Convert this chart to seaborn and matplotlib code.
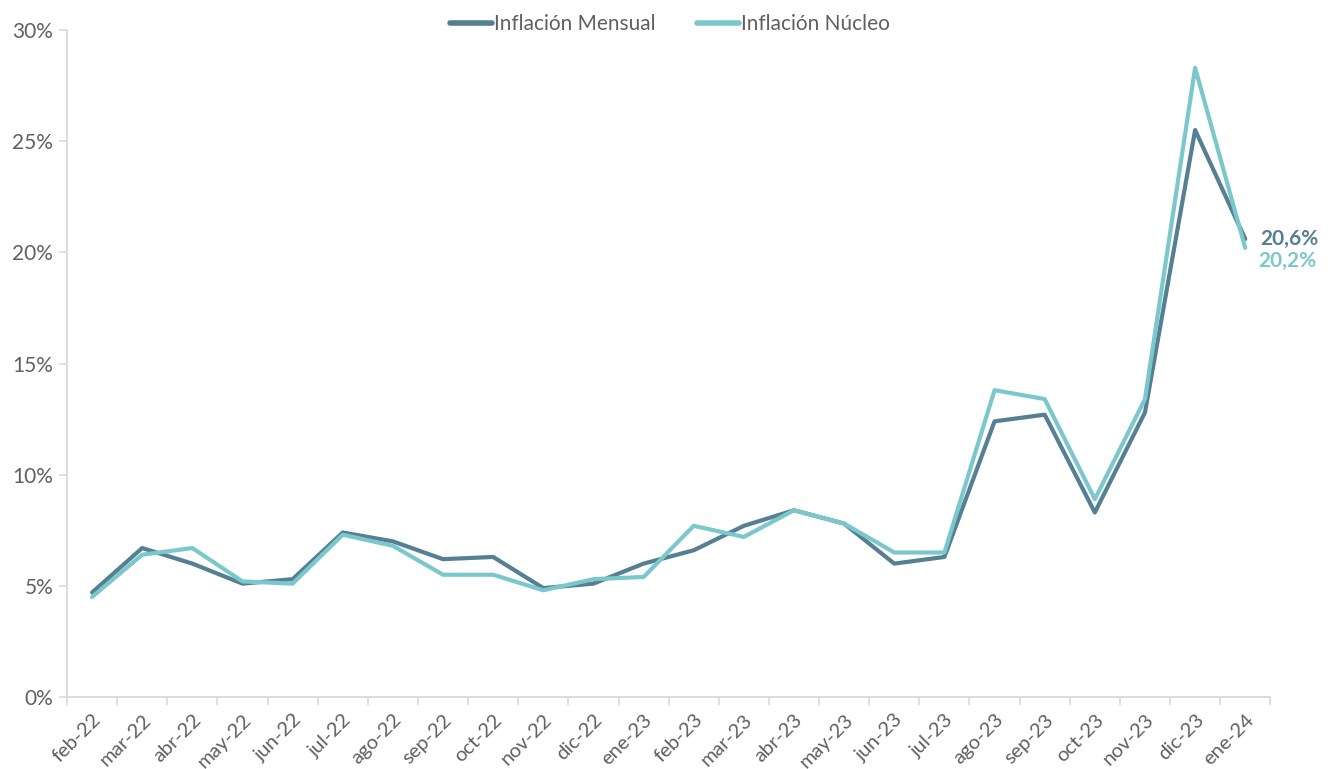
import matplotlib.pyplot as plt
import matplotlib.ticker as mticker
import pandas as pd
import seaborn as sns

meses = ["feb-22", "mar-22", "abr-22", "may-22", "jun-22", "jul-22", "ago-22", "sep-22",
         "oct-22", "nov-22", "dic-22", "ene-23", "feb-23", "mar-23", "abr-23", "may-23",
         "jun-23", "jul-23", "ago-23", "sep-23", "oct-23", "nov-23", "dic-23", "ene-24"]
mensual = [4.7, 6.7, 6.0, 5.1, 5.3, 7.4, 7.0, 6.2, 6.3, 4.9, 5.1, 6.0,
           6.6, 7.7, 8.4, 7.8, 6.0, 6.3, 12.4, 12.7, 8.3, 12.8, 25.5, 20.6]
nucleo = [4.5, 6.4, 6.7, 5.2, 5.1, 7.3, 6.8, 5.5, 5.5, 4.8, 5.3, 5.4,
          7.7, 7.2, 8.4, 7.8, 6.5, 6.5, 13.8, 13.4, 8.9, 13.4, 28.3, 20.2]

series = ["Inflación Mensual", "Inflación Núcleo"]
colores = ["#557f93", "#7bc8cc"]
gris = "#606060"

def main():
    df = pd.DataFrame({"mes": meses, series[0]: mensual, series[1]: nucleo})
    df["pos"] = range(len(meses))
    df = df.melt(id_vars=["mes", "pos"], var_name="serie", value_name="valor")

    sns.set_style("white")
    plt.rcParams["font.family"] = ["Lato", "DejaVu Sans"]

    fig = plt.figure(figsize=(13.4, 7.69), dpi=100)
    ax = fig.add_axes([0.05, 0.0936, 0.898, 0.8674])
    sns.lineplot(data=df, x="pos", y="valor", hue="serie", palette=colores,
                 linewidth=3.0, sort=False, ax=ax, legend=False)

    ax.set_xlim(-0.5, len(meses) - 0.5)
    ax.set_ylim(0, 30)
    ax.yaxis.set_major_locator(mticker.MultipleLocator(5))
    ax.yaxis.set_major_formatter(mticker.FuncFormatter(lambda v, p: f"{v:.0f}%"))

    ax.set_xticks(range(len(meses)))
    ax.set_xticklabels(meses, rotation=45, ha="right", rotation_mode="anchor")
    ax.set_xticks([i + 0.5 for i in range(-1, len(meses))], minor=True)
    ax.tick_params(axis="x", which="major", bottom=True, length=0, pad=10,
                   labelsize=14.5, labelcolor=gris)
    ax.tick_params(axis="x", which="minor", bottom=True, length=6, color="#d9d9d9", width=1.2)
    ax.tick_params(axis="y", left=True, length=6, color="#d9d9d9", width=1.2,
                   labelsize=15, labelcolor=gris, pad=4)

    for s in ["top", "right"]:
        ax.spines[s].set_visible(False)
    for s in ["left", "bottom"]:
        ax.spines[s].set_color("#d9d9d9")
        ax.spines[s].set_linewidth(1.3)
    ax.set_xlabel("")
    ax.set_ylabel("")

    # etiquetas del último dato
    n = len(meses) - 1
    ax.text(n + 0.3, mensual[-1], f"{mensual[-1]:.1f}%".replace(".", ","),
            color=colores[0], fontsize=15, fontweight="bold", va="center")
    ax.text(n + 0.25, nucleo[-1] - 0.6, f"{nucleo[-1]:.1f}%".replace(".", ","),
            color=colores[1], fontsize=15, fontweight="bold", va="center")

    handles = [plt.Line2D([], [], color=c, linewidth=4) for c in colores]
    fig.legend(handles, series, loc="upper center", bbox_to_anchor=(0.5, 1.006), ncol=2,
               frameon=False, fontsize=15, labelcolor=gris, handlelength=2.0,
               handletextpad=0.1, columnspacing=2.0)

    fig.savefig("out.png", dpi=100)

if __name__ == "__main__":
    main()
